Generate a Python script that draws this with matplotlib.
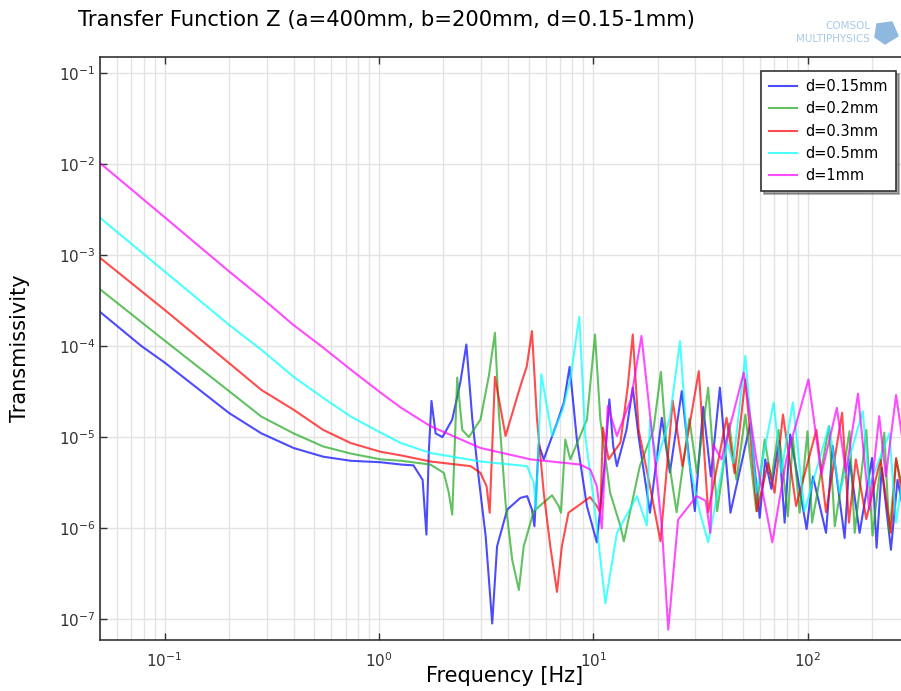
import matplotlib.pyplot as plt
from matplotlib.patches import Polygon

# d=0.15mm
f_015 = [0.05, 0.078, 0.1, 0.2, 0.283, 0.4, 0.55, 0.74, 1.02, 1.27, 1.45, 1.6, 1.667, 1.71, 1.76,
         1.84, 1.98, 2.2, 2.4, 2.56, 2.73, 2.93, 3.15, 3.38, 3.56, 3.97, 4.57, 4.92, 5.18, 5.32,
         5.57, 5.88, 6.78, 7.3, 7.76, 8.1, 8.39, 9.35, 10.4, 11.25, 11.9, 12.4, 12.9, 14.3, 15.3,
         16.3, 18.4, 20.9, 22.8, 25.9, 29.8, 32.6, 35.4, 39.0, 43.7, 54.1, 59.8, 63.5, 67.8,
         73.6, 78.2, 83, 99, 106, 122, 131, 149, 157, 175, 200, 210, 222, 245, 263, 280]
t_015 = [2.37e-4, 1.0e-4, 6.6e-5, 1.84e-5, 1.1e-5, 7.6e-6, 6.1e-6, 5.5e-6, 5.3e-6, 5.0e-6, 4.9e-6,
         3.4e-6, 8.5e-7, 6.8e-6, 2.5e-5, 1.1e-5, 1.0e-5, 1.56e-5, 4.0e-5, 1.04e-4, 1.56e-5,
         3.4e-6, 8.2e-7, 9.0e-8, 6.3e-7, 1.6e-6, 2.15e-6, 2.25e-6, 1.6e-6, 1.05e-6, 8.3e-6,
         5.7e-6, 1.44e-5, 2.4e-5, 5.9e-5, 2.2e-5, 9.4e-6, 1.75e-6, 7.0e-7, 4.4e-6, 2.6e-5,
         8.0e-6, 4.8e-6, 1.2e-5, 3.5e-5, 1.0e-5, 1.48e-6, 1.63e-5, 4.1e-6, 3.2e-5, 1.54e-6,
         2.15e-5, 3.7e-6, 3.5e-5, 1.48e-6, 1.41e-5, 1.3e-6, 5.7e-6, 2.7e-6, 9.0e-6, 1.15e-6,
         1.07e-5, 9.8e-7, 3.7e-6, 8.9e-7, 8.0e-6, 7.8e-7, 5.7e-6, 8.9e-7, 5.9e-6, 6.1e-7,
         4.6e-6, 5.8e-7, 3.4e-6, 1.6e-6]

# d=0.2mm
f_02 = [0.05, 0.1, 0.2, 0.283, 0.4, 0.55, 0.74, 1.02, 1.27, 1.74, 2.01, 2.12, 2.2, 2.32, 2.45,
        2.63, 2.98, 3.26, 3.48, 3.63, 3.9, 4.19, 4.5, 4.74, 5.28, 6.43, 6.9, 7.08, 7.41, 7.82,
        9.35, 10.2, 10.8, 12.0, 13.4, 13.9, 16.5, 19.1, 20.7, 22.0, 24.5, 28.1, 30.5, 34.4,
        37.9, 43.1, 46.6, 51.3, 57.7, 63.1, 67.8, 73.3, 81, 85.5, 91.9, 100, 105, 126, 134,
        157, 166, 188, 201, 228, 241, 259, 280]
t_02 = [4.2e-4, 1.15e-4, 3.2e-5, 1.68e-5, 1.1e-5, 7.9e-6, 6.6e-6, 5.7e-6, 5.5e-6, 5.0e-6, 4.05e-6,
        2.45e-6, 1.41e-6, 4.5e-5, 1.2e-5, 1.0e-5, 1.56e-5, 4.7e-5, 1.4e-4, 1.85e-5, 1.9e-6,
        4.5e-7, 2.1e-7, 6.3e-7, 1.54e-6, 2.3e-6, 1.75e-6, 1.48e-6, 9.4e-6, 5.7e-6, 1.56e-5,
        1.34e-4, 1.56e-5, 2.45e-6, 1.05e-6, 7.2e-7, 4.8e-6, 1.2e-5, 5.2e-5, 8.0e-6, 1.5e-6,
        1.59e-5, 4.0e-6, 3.5e-5, 1.54e-6, 1.41e-5, 3.4e-6, 1.77e-5, 1.54e-6, 9.4e-6, 3.4e-6,
        1.2e-5, 1.35e-6, 9.8e-6, 1.48e-6, 1.16e-5, 1.15e-6, 1.32e-5, 1.05e-6, 1.16e-5, 8.9e-7,
        1.2e-5, 8.3e-7, 1.12e-5, 8.9e-7, 5.7e-6, 2.5e-6]

# d=0.3mm
f_03 = [0.05, 0.1, 0.2, 0.283, 0.4, 0.55, 0.74, 1.02, 1.27, 1.74, 2.68, 2.98, 3.18, 3.29, 3.48,
        3.9, 4.57, 4.9, 5.18, 5.47, 5.88, 6.31, 6.78, 7.14, 7.67, 9.68, 10.4, 10.8, 11.1, 11.8,
        13.4, 14.5, 15.3, 16.3, 18.4, 20.6, 23.5, 26.1, 31.1, 34.4, 41.9, 45.7, 51.3, 58.1,
        65.4, 70.2, 76.8, 88.5, 110, 122, 145, 156, 168, 188, 219, 245, 259, 280]
t_03 = [9.3e-4, 2.5e-4, 6.5e-5, 3.3e-5, 2.0e-5, 1.2e-5, 8.6e-6, 6.9e-6, 6.3e-6, 5.4e-6, 4.8e-6,
        4.05e-6, 2.9e-6, 1.48e-6, 4.6e-5, 1.03e-5, 3.6e-5, 6.0e-5, 1.46e-4, 1.56e-5, 2.45e-6,
        6.3e-7, 2.0e-7, 6.3e-7, 1.48e-6, 2.2e-6, 1.75e-6, 1.48e-6, 1.27e-5, 5.7e-6, 8.7e-6,
        3.6e-5, 1.34e-4, 1.2e-5, 2.9e-6, 7.2e-7, 2.5e-5, 4.8e-6, 5.3e-5, 1.5e-6, 1.63e-5,
        4.0e-6, 4.3e-5, 1.54e-6, 5.2e-6, 2.45e-6, 1.77e-5, 1.75e-6, 1.2e-5, 1.5e-6, 1.85e-5,
        1.15e-6, 5.7e-6, 1.26e-6, 5.7e-6, 8.9e-7, 5.9e-6, 2.0e-6]

# d=0.5mm
f_05 = [0.05, 0.1, 0.2, 0.283, 0.4, 0.55, 0.74, 1.02, 1.27, 1.74, 2.98, 4.92, 5.28, 5.40, 5.73,
        6.43, 7.2, 7.82, 8.61, 9.18, 10.05, 11.4, 12.9, 16.0, 17.8, 18.4, 19.8, 22.8, 25.4,
        27.8, 31.5, 34.4, 42.2, 45.0, 51.3, 57.7, 69.5, 75.4, 85.5, 96.8, 126, 141, 181, 194,
        241, 259, 280]
t_05 = [2.56e-3, 6.6e-4, 1.71e-4, 9.1e-5, 4.6e-5, 2.7e-5, 1.68e-5, 1.12e-5, 8.6e-6, 6.7e-6,
        5.4e-6, 4.8e-6, 3.15e-6, 1.6e-6, 4.9e-5, 1.03e-5, 2.0e-5, 4.3e-5, 2.1e-4, 1.03e-5,
        2.07e-6, 1.5e-7, 8.9e-7, 2.25e-6, 1.07e-6, 1.56e-5, 5.4e-6, 1.63e-5, 1.13e-4, 5.7e-6,
        1.48e-6, 7.0e-7, 8.7e-6, 5.2e-6, 7.8e-5, 2.45e-6, 2.4e-5, 4.1e-6, 2.4e-5, 1.54e-6,
        1.32e-5, 2.45e-6, 1.93e-5, 2.9e-6, 1.1e-5, 1.15e-6, 4.0e-6]

# d=1mm
f_1 = [0.05, 0.1, 0.2, 0.283, 0.4, 0.55, 0.74, 1.02, 1.27, 1.74, 2.98, 5.1, 8.7, 9.7, 10.4,
       10.97, 11.7, 12.9, 15.0, 16.8, 19.1, 20.9, 22.4, 24.9, 30.4, 33.5, 35.2, 36.3, 39.7,
       50.4, 57.7, 68.5, 79.6, 101, 116, 137, 151, 172, 194, 216, 232, 259, 280]
t_1 = [1.02e-2, 2.6e-3, 6.6e-4, 3.4e-4, 1.7e-4, 9.6e-5, 5.5e-5, 3.07e-5, 2.1e-5, 1.32e-5, 7.6e-6,
       5.7e-6, 5.0e-6, 4.4e-6, 2.9e-6, 1.0e-6, 2.2e-5, 1.03e-5, 2.6e-5, 1.29e-4, 8.0e-6,
       1.05e-6, 7.7e-8, 1.24e-6, 2.25e-6, 2.0e-6, 8.9e-7, 8.3e-6, 5.7e-6, 5.1e-5, 5.7e-6,
       7.0e-7, 5.7e-6, 4.3e-5, 3.9e-6, 2.1e-5, 4.1e-6, 3.0e-5, 1.6e-6, 1.7e-5, 3.7e-6,
       2.9e-5, 8.0e-6]

labels = ["d=0.15mm", "d=0.2mm", "d=0.3mm", "d=0.5mm", "d=1mm"]
colors = ["#0000ff", "#1fa81f", "#ff0000", "#00ffff", "#ff00ff"]
series = [(f_015, t_015), (f_02, t_02), (f_03, t_03), (f_05, t_05), (f_1, t_1)]

fig = plt.figure(figsize=(9.01, 6.91), dpi=100)
ax = fig.add_axes([100/901, 51/691, 801/901, 583.3/691])

for (f, t), lab, c in zip(series, labels, colors):
    ax.loglog(f, t, color=c, lw=1.5, alpha=0.7, label=lab)

ax.set_xlim(0.05, 273)
ax.set_ylim(5.93e-8, 0.15)

ax.grid(True, which='major', color='#e3e3e3', lw=1)
ax.grid(True, which='minor', axis='x', color='#e3e3e3', lw=1)
ax.set_axisbelow(True)
ax.tick_params(which='major', direction='in', length=5, width=1, colors='#333333',
               labelsize=11, top=True, right=False)
ax.tick_params(which='minor', length=0)
ax.set_yticks([1e-7, 1e-6, 1e-5, 1e-4, 1e-3, 1e-2, 1e-1])
ax.set_xticks([1e-1, 1e0, 1e1, 1e2])
ax.tick_params(axis='x', pad=8)
for s in ['left', 'bottom', 'top']:
    ax.spines[s].set_color('#333333')
    ax.spines[s].set_linewidth(1.2)
ax.spines['right'].set_visible(False)

fig.text(78/901, 1 - 20/691, "Transfer Function Z (a=400mm, b=200mm, d=0.15-1mm)",
         fontsize=15.2, ha='left', va='center')
fig.text(20/901, 1 - 348/691, "Transmissivity", fontsize=15, rotation=90,
         ha='center', va='center')
fig.text(505/901, 1 - 676/691, "Frequency [Hz]", fontsize=15, ha='center', va='center')

# COMSOL logo
fig.text(870/901, 1 - 26/691, "COMSOL", fontsize=7.5, color='#a9c9e8', ha='right', va='center')
fig.text(870/901, 1 - 39/691, "MULTIPHYSICS", fontsize=7.5, color='#a9c9e8', ha='right',
         va='center')
cube = Polygon([[877/901, 1 - 24/691], [892/901, 1 - 22/691], [898/901, 1 - 36/691],
                [885/901, 1 - 44/691], [875/901, 1 - 37/691]], closed=True,
               transform=fig.transFigure, color='#8fb8de')
fig.patches.append(cube)

leg = ax.legend(loc='upper left', bbox_to_anchor=(761/901, 1 - 71/691),
                bbox_transform=fig.transFigure, borderaxespad=0, fontsize=10.5,
                fancybox=False, shadow=True, framealpha=1, edgecolor='#333333',
                handlelength=1.9, handletextpad=0.6, labelspacing=0.5, borderpad=0.55)
leg.get_frame().set_linewidth(1.2)

fig.savefig("out.png", dpi=100)
